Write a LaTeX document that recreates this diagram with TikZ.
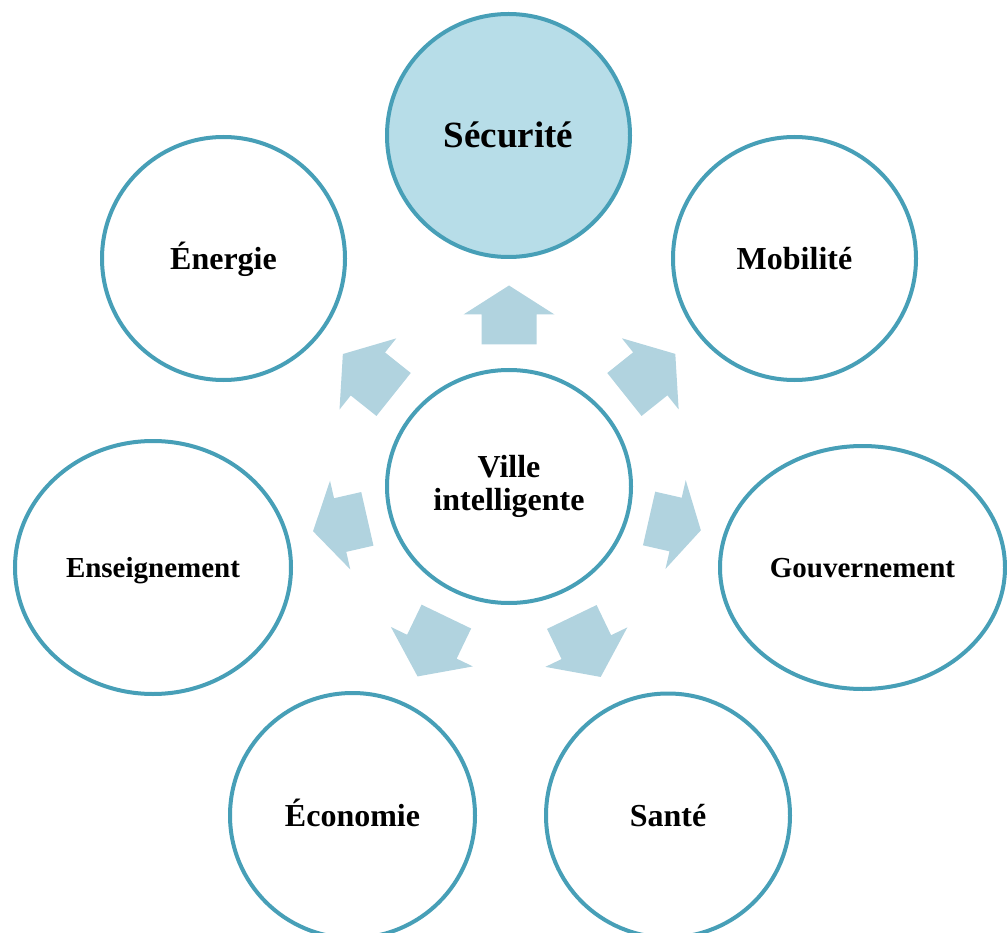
\documentclass[tikz,border=0pt]{standalone}
\usepackage{fontspec}
\setmainfont{Liberation Serif}
\usetikzlibrary{shapes.geometric}
\definecolor{ring}{HTML}{479FB7}
\definecolor{hifill}{HTML}{B7DDE8}
\definecolor{arrowfill}{HTML}{B1D3DF}
\tikzset{
  bubble/.style={circle, draw=ring, line width=4pt, fill=white, minimum size=243pt, inner sep=2pt,
    font=\bfseries\fontsize{32}{33}\selectfont, text height=21.2pt, text depth=0pt},
  oval/.style={ellipse, draw=ring, line width=4pt, fill=white, inner sep=2pt,
    font=\bfseries\fontsize{29}{30}\selectfont, text height=19.2pt, text depth=0pt},
  hub/.style={ellipse, draw=ring, line width=4pt, fill=white, minimum width=244pt, minimum height=233pt,
    align=center, font=\bfseries\fontsize{32}{33}\selectfont},
  blockarrow/.style={fill=arrowfill, draw=none}
}
\newcommand{\barrow}[4]{%
  \fill[blockarrow, shift={(509,-486.5)}, rotate=#1]
    (#2,-27.5) -- (#3,-27.5) -- (#3,-45.5) -- (#4,0) -- (#3,45.5) -- (#3,27.5) -- (#2,27.5) -- cycle;}
\begin{document}
\begin{tikzpicture}[x=1pt,y=1pt]
\useasboundingbox (0,0) rectangle (1007,-933);
% block arrows
\barrow{90}{142}{172}{201}
\barrow{38.57}{147.6}{180.7}{212.7}
\barrow{-12.86}{143.7}{170.9}{196.8}
\barrow{-64.29}{144.8}{178.3}{211.4}
\barrow{-115.71}{144.4}{177.8}{210.8}
\barrow{-167.14}{145.3}{173.2}{201}
\barrow{141.43}{147.6}{180.5}{212.5}
% nodes
\node[hub] (ville) at (509,-486.5) {Ville\\intelligente};
\node[bubble, fill=hifill, font=\bfseries\fontsize{37}{38}\selectfont, text height=24.5pt] (securite) at (508.5,-135.5) {Sécurité};
\node[bubble] (mobilite) at (794.5,-258.5) {Mobilité};
\node[oval, minimum width=285pt, minimum height=243pt] (gouv) at (862.5,-567.5) {Gouvernement};
\node[bubble, minimum size=244pt] (sante) at (668,-815.5) {Santé};
\node[bubble, minimum size=245pt] (economie) at (352.5,-815.5) {Économie};
\node[oval, minimum width=276pt, minimum height=253pt] (enseign) at (153,-567.5) {Enseignement};
\node[bubble] (energie) at (223.5,-258.5) {Énergie};
\end{tikzpicture}
\end{document}
